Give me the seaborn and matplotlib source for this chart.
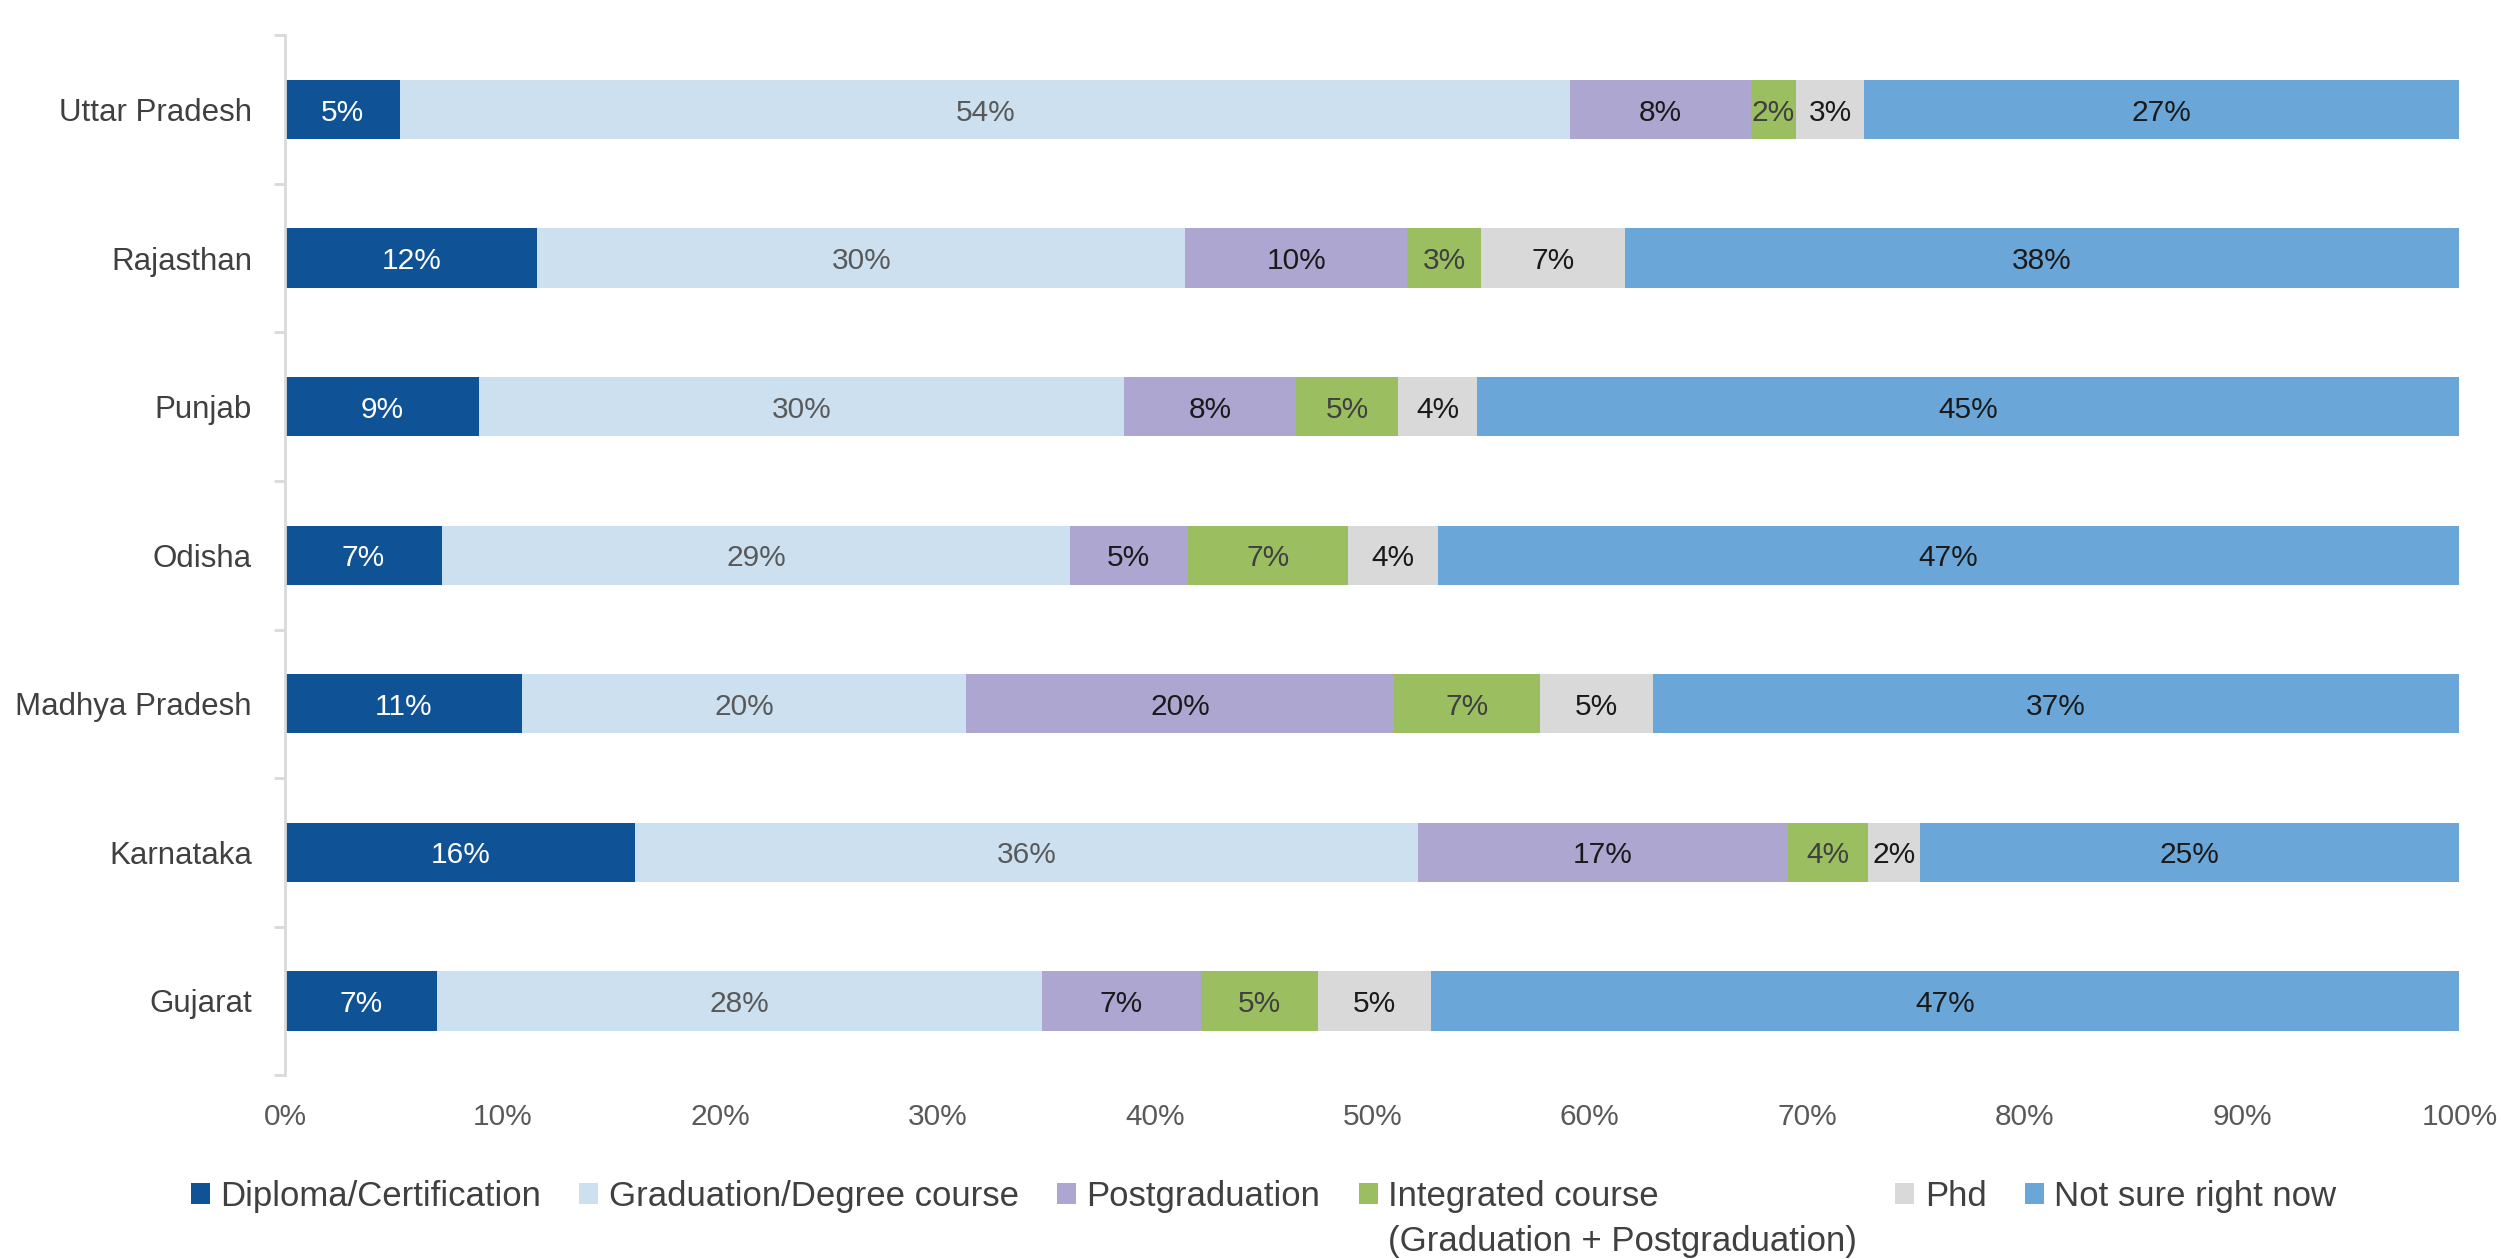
import matplotlib
matplotlib.use("Agg")
import matplotlib.pyplot as plt
import seaborn as sns
import pandas as pd
import numpy as np
from matplotlib import font_manager
from matplotlib.patches import Patch

states = ["Uttar Pradesh", "Rajasthan", "Punjab", "Odisha",
          "Madhya Pradesh", "Karnataka", "Gujarat"]

categories = ["Diploma/Certification", "Graduation/Degree course", "Postgraduation",
              "Integrated course", "Phd", "Not sure right now"]
integrated_note = "(Graduation + Postgraduation)"

diploma      = [5.3, 11.6, 8.9, 7.2, 10.9, 16.1, 7.0]
graduation   = [53.8, 29.8, 29.7, 28.9, 20.4, 36.0, 27.8]
postgrad     = [8.3, 10.2, 7.9, 5.4, 19.7, 17.0, 7.3]
integrated   = [2.1, 3.4, 4.7, 7.4, 6.7, 3.7, 5.4]
phd          = [3.1, 6.6, 3.6, 4.1, 5.2, 2.4, 5.2]
not_sure     = [27.4, 38.4, 45.2, 47.0, 37.1, 24.8, 47.3]

x_ticks = [0, 10, 20, 30, 40, 50, 60, 70, 80, 90, 100]

colors = ["#0F5296", "#CCE0EF", "#ADA6D0", "#9BBF60", "#D9D9D9", "#6AA7D8"]
label_colors = ["#FFFFFF", "#595959", "#1A1A1A", "#404040", "#1A1A1A", "#1A1A1A"]

series = [diploma, graduation, postgrad, integrated, phd, not_sure]

available = {f.name for f in font_manager.fontManager.ttflist}
family = "Liberation Sans Narrow" if "Liberation Sans Narrow" in available else "Liberation Sans"

sns.set_theme(style="white")
plt.rcParams["font.family"] = [family, "DejaVu Sans"]

df = pd.DataFrame({"state": states})
for name, vals in zip(categories, series):
    df[name] = vals
cum = df[categories].cumsum(axis=1)

fig = plt.figure(figsize=(25.02, 12.59), dpi=100)
ax = fig.add_axes([0.114, 0.146, 0.869, 0.826])

# stacked bars: draw cumulative totals from the outermost layer inward
for i in range(len(categories) - 1, -1, -1):
    sns.barplot(x=cum[categories[i]], y=df["state"], order=states, orient="h",
                color=colors[i], width=0.4, linewidth=0, saturation=1, ax=ax)

# segment value labels
for i, cat in enumerate(categories):
    starts = cum[cat] - df[cat]
    for j, st in enumerate(states):
        v = df[cat].iloc[j]
        ax.text(starts.iloc[j] + v / 2, j, f"{v:.0f}%", ha="center", va="center_baseline",
                fontsize=21.5, color=label_colors[i])

ax.set_xlim(0, 100)
ax.set_ylim(len(states) - 0.5, -0.5)
ax.set_xticks(x_ticks)
ax.set_xticklabels([f"{t}%" for t in x_ticks])
ax.set_xlabel("")
ax.set_ylabel("")

for s in ["top", "right", "bottom"]:
    ax.spines[s].set_visible(False)
ax.spines["left"].set_color("#D9D9D9")
ax.spines["left"].set_linewidth(2)

ax.tick_params(axis="y", which="major", length=0, pad=24, labelsize=22.5, labelcolor="#404040")
ax.tick_params(axis="x", which="major", length=0, pad=20, labelsize=21.5, labelcolor="#595959")
ax.set_yticks(np.arange(-0.5, len(states), 1.0), minor=True)
ax.tick_params(axis="y", which="minor", length=8, width=2, color="#D9D9D9", left=True)

# legend: two rows per column so the integrated-course note sits under its label
blank = Patch(facecolor="none", edgecolor="none")
handles, labels = [], []
for c, name in zip(colors, categories):
    handles.append(Patch(facecolor=c, edgecolor="none"))
    labels.append(name)
    handles.append(blank)
    labels.append(integrated_note if name == "Integrated course" else "")

fig.legend(handles, labels, loc="upper center", bbox_to_anchor=(0.505, 0.063),
           ncol=6, frameon=False, fontsize=25, handlelength=0.55, handleheight=0.55,
           handletextpad=0.3, columnspacing=1.1, labelspacing=0.35, labelcolor="#404040",
           borderaxespad=0, borderpad=0)

fig.savefig("out.png", dpi=100, facecolor="white")
